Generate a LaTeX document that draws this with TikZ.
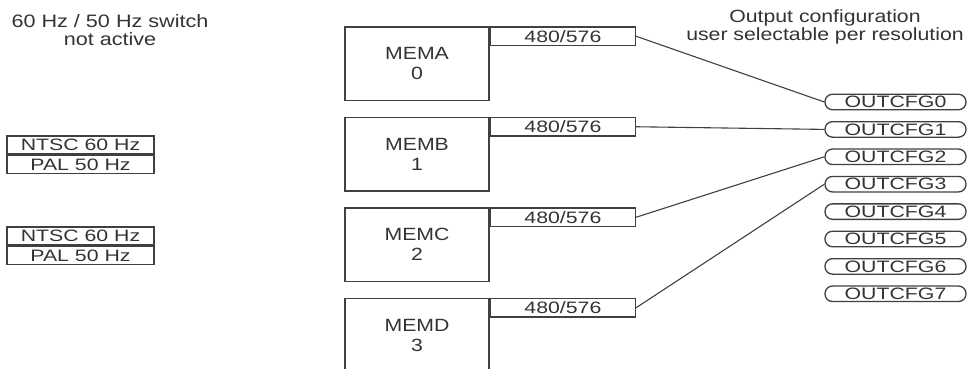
\documentclass[tikz,border=0pt]{standalone}
\usepackage{fontspec}
\setmainfont{Liberation Sans}[FakeStretch=1.2]
\newfontfamily\narrowfont{Liberation Sans}[FakeStretch=1.29]
\usetikzlibrary{positioning}

\begin{document}
\begin{tikzpicture}[x=1pt, y=-1pt,
    every node/.style={text=black!80, inner sep=0pt},
    note/.style={align=center, font=\fontsize{18}{18}\selectfont},
    membox/.style={draw=black!75, line width=1.4pt, minimum width=144pt,
      minimum height=73.5pt, align=center, font=\fontsize{17.7}{20}\selectfont},
    resbox/.style={draw=black!75, line width=1.4pt, minimum width=145pt,
      minimum height=18.5pt, anchor=north west, font=\narrowfont\fontsize{16.5}{16}\selectfont},
    modebox/.style={draw=black!75, line width=1.4pt, minimum width=147pt,
      minimum height=18pt, font=\narrowfont\fontsize{16.5}{16}\selectfont},
    cfgnode/.style={draw=black!75, line width=1.3pt, rounded corners=7.5pt,
      minimum width=141pt, minimum height=15.5pt, font=\narrowfont\fontsize{16.5}{16}\selectfont},
    link/.style={draw=black!75, line width=1.1pt}]
  \useasboundingbox (0,0) rectangle (967,369);

  % headings
  \node[note] (switch) at (110,30) {60 Hz / 50 Hz switch\\not active};
  \node[note, font=\fontsize{17.7}{15}\selectfont] (outcfg) at (825,27) {Output configuration\\user selectable per resolution};

  % video standard selectors
  \node[modebox] (ntscB) at (80.5,145) {NTSC 60 Hz};
  \node[modebox, below=0pt of ntscB] (palB) {PAL 50 Hz};
  \node[modebox] (ntscC) at (80.5,236) {NTSC 60 Hz};
  \node[modebox, below=0pt of ntscC] (palC) {PAL 50 Hz};

  % memories with their resolution
  \node[membox] (memA) at (417,63.75) {MEMA\\0};
  \node[membox] (memB) at (417,154.25) {MEMB\\1};
  \node[membox] (memC) at (417,244.75) {MEMC\\2};
  \node[membox] (memD) at (417,335.25) {MEMD\\3};
  \node[resbox] (resA) at (memA.north east) {480/576};
  \node[resbox] (resB) at (memB.north east) {480/576};
  \node[resbox] (resC) at (memC.north east) {480/576};
  \node[resbox] (resD) at (memD.north east) {480/576};

  % output configurations
  \foreach \i in {0,...,7}
    \node[cfgnode] (cfg\i) at (895.5,102+27.4*\i) {OUTCFG\i};

  % connections
  \draw[link] (resA.east) -- (cfg0.west);
  \draw[link] (resB.east) -- (cfg1.west);
  \draw[link] (resC.east) -- (cfg2.west);
  \draw[link] (resD.east) -- (cfg3.west);
\end{tikzpicture}
\end{document}
